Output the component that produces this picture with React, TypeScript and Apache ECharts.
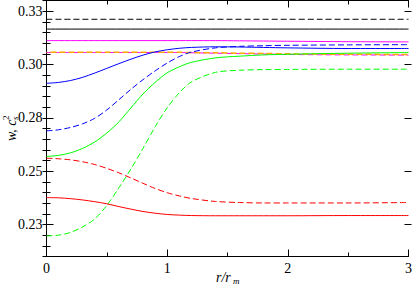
import React, { useEffect, useRef } from "react";
import * as echarts from "echarts";

// x positions (r / r_m) shared by the curved series
const rX = [0, 0.1, 0.2, 0.3, 0.4, 0.5, 0.6, 0.7, 0.8, 0.9, 1.0, 1.1, 1.2, 1.4, 1.6, 1.8, 2.0, 2.5, 3.0];
// x positions for the flat lines
const flatX = [0, 3];

const blackDashed = [0.3212, 0.3212];
const blackSolid = [0.3166, 0.3166];

const magentaSolid = [0.3112, 0.3112, 0.3112, 0.3112, 0.3112, 0.3112, 0.3112, 0.3112, 0.3112, 0.3112, 0.3112, 0.3112, 0.3112, 0.3112, 0.3111, 0.311, 0.3109, 0.3107, 0.3106];
const magentaDashed = [0.3056, 0.3056, 0.3056, 0.3056, 0.3056, 0.3056, 0.3056, 0.3056, 0.3056, 0.3056, 0.3056, 0.3056, 0.3055, 0.3053, 0.3051, 0.3049, 0.3047, 0.3045, 0.3044];
const orangeDashed = [0.3057, 0.3057, 0.3057, 0.3057, 0.3057, 0.3057, 0.3057, 0.3057, 0.3057, 0.3057, 0.3057, 0.3057, 0.3056, 0.3055, 0.3053, 0.3052, 0.305, 0.3048, 0.3047];
const blueSolid = [0.2912, 0.2916, 0.2925, 0.294, 0.296, 0.2982, 0.3004, 0.3025, 0.3044, 0.3059, 0.3069, 0.3076, 0.308, 0.3083, 0.3082, 0.308, 0.3078, 0.3075, 0.3075];
const blueDashed = [0.2689, 0.2694, 0.2705, 0.2722, 0.2748, 0.2787, 0.2835, 0.2884, 0.2929, 0.297, 0.3007, 0.3037, 0.3058, 0.3078, 0.3085, 0.3088, 0.309, 0.3092, 0.3093];
const greenSolid = [0.2569, 0.2574, 0.2586, 0.2607, 0.2637, 0.2679, 0.2731, 0.2797, 0.2862, 0.2916, 0.2961, 0.2989, 0.301, 0.3031, 0.3039, 0.3045, 0.3048, 0.3053, 0.3056];
const greenDashed = [0.2197, 0.22, 0.2213, 0.2239, 0.2276, 0.234, 0.2422, 0.2511, 0.2607, 0.2708, 0.2797, 0.2867, 0.2918, 0.2963, 0.2973, 0.2976, 0.2977, 0.2978, 0.2978];
const redSolid = [0.2376, 0.2375, 0.2371, 0.2365, 0.2357, 0.2347, 0.2334, 0.2322, 0.2311, 0.2303, 0.2297, 0.2294, 0.2292, 0.2291, 0.2291, 0.2291, 0.2291, 0.2292, 0.2292];
const redDashed = [0.2561, 0.2558, 0.2553, 0.2544, 0.2531, 0.2513, 0.2492, 0.2468, 0.2443, 0.2419, 0.2399, 0.2384, 0.2372, 0.2358, 0.2353, 0.2351, 0.2351, 0.2351, 0.2353];

const xTickValues = [0, 1, 2, 3];
const xTickLabels = ["0", "1", "2", "3"];
const yTickValues = [0.225, 0.25, 0.275, 0.3, 0.325];
const yTickLabels = ["0.23", "0.25", "0.28", "0.30", "0.33"];

const FONT = "'Liberation Serif', 'Times New Roman', 'DejaVu Serif', serif";

function lookup(values: number[], labels: string[], v: number): string {
  for (let i = 0; i < values.length; i++) {
    if (Math.abs(values[i] - v) < 1e-9) return labels[i];
  }
  return "";
}

function pairs(xs: number[], ys: number[]) {
  return xs.map((x, i) => [x, ys[i]]);
}

export default function App() {
  const ref = useRef<HTMLDivElement>(null);

  useEffect(() => {
    if (!ref.current) return;
    const chart = echarts.init(ref.current, undefined, { renderer: "svg" });

    const gridBox = { left: 46.5, top: 0.5, right: 3.5, bottom: 30.5 };
    const dash = [6, 3];

    const mkLine = (name: string, xs: number[], ys: number[], color: string, dashed: boolean, width = 1, dashOffset = 0) => ({
      name,
      type: "line",
      xAxisIndex: 0,
      yAxisIndex: 0,
      data: pairs(xs, ys),
      showSymbol: false,
      symbol: "none",
      smooth: 0.3,
      lineStyle: { color, width, type: dashed ? dash : "solid", dashOffset },
      silent: true,
    });

    const xBase = {
      type: "value",
      min: 0,
      max: 3,
      interval: 1,
      axisLine: { show: true, lineStyle: { color: "#000", width: 1 } },
      axisTick: { show: true, inside: true, length: 7, lineStyle: { color: "#000", width: 1 } },
      minorTick: { show: true, splitNumber: 2, length: 4, lineStyle: { color: "#000", width: 1 } },
      splitLine: { show: false },
      minorSplitLine: { show: false },
    };

    const yBase = {
      type: "value",
      min: 0.21,
      max: 0.33,
      interval: 0.005,
      axisLine: { show: true, lineStyle: { color: "#000", width: 1 } },
      axisTick: { show: true, inside: true, length: 4, lineStyle: { color: "#000", width: 1 } },
      splitLine: { show: false },
    };

    const yMajor = {
      type: "value",
      gridIndex: 1,
      min: 0.21,
      max: 0.33,
      axisLine: { show: false },
      axisTick: { show: true, inside: true, length: 7, customValues: yTickValues, lineStyle: { color: "#000", width: 1 } },
      axisLabel: { show: false },
      splitLine: { show: false },
    };

    const txt = (text: string, x: number, y: number, font: string) => ({
      type: "text",
      x,
      y,
      style: { text, font, fill: "#000", textAlign: "left", textVerticalAlign: "middle", verticalAlign: "middle" },
    });

    chart.setOption({
      animation: false,
      backgroundColor: "#fff",
      grid: [
        { ...gridBox, containLabel: false },
        { ...gridBox, containLabel: false },
      ],
      xAxis: [
        {
          ...xBase,
          gridIndex: 0,
          position: "bottom",
          axisLabel: {
            show: true,
            margin: 5,
            color: "#000",
            fontFamily: FONT,
            fontSize: 14,
            formatter: (v: number) => lookup(xTickValues, xTickLabels, v),
          },
        },
        { ...xBase, gridIndex: 0, position: "top", axisLabel: { show: false } },
        { type: "value", gridIndex: 1, min: 0, max: 3, show: false },
      ],
      yAxis: [
        {
          ...yBase,
          gridIndex: 0,
          position: "left",
          axisLabel: {
            show: true,
            margin: 4,
            color: "#000",
            fontFamily: FONT,
            fontSize: 14,
            customValues: yTickValues,
            formatter: (v: number) => lookup(yTickValues, yTickLabels, v),
          },
        },
        { ...yBase, gridIndex: 0, position: "right", axisLabel: { show: false } },
        { ...yMajor, position: "left" },
        { ...yMajor, position: "right" },
      ],
      graphic: [
        {
          type: "group",
          x: 11,
          y: 141,
          rotation: Math.PI / 2,
          silent: true,
          children: [
            txt("w, c", 0, 0, `italic 14px ${FONT}`),
            txt("2", 21, -5, `9px ${FONT}`),
            txt("s", 21, 4, `italic 9px ${FONT}`),
          ],
        },
        {
          type: "group",
          x: 216,
          y: 277,
          silent: true,
          children: [
            txt("r/r", 0, 0, `italic 14px ${FONT}`),
            txt("m", 17, 4, `italic 9px ${FONT}`),
          ],
        },
      ],
      series: [
        mkLine("blackDashed", flatX, blackDashed, "#000000", true),
        mkLine("blackSolid", flatX, blackSolid, "#000000", false),
        mkLine("magentaSolid", rX, magentaSolid, "#ff00ff", false),
        mkLine("magentaDashed", rX, magentaDashed, "#ff00ff", true),
        mkLine("orangeDashed", rX, orangeDashed, "#ffa500", true, 1.5, 4.5),
        mkLine("blueSolid", rX, blueSolid, "#0000ff", false),
        mkLine("blueDashed", rX, blueDashed, "#0000ff", true),
        mkLine("greenSolid", rX, greenSolid, "#00ff00", false),
        mkLine("greenDashed", rX, greenDashed, "#00ff00", true),
        mkLine("redSolid", rX, redSolid, "#ff0000", false),
        mkLine("redDashed", rX, redDashed, "#ff0000", true),
      ],
    });

    return () => chart.dispose();
  }, []);

  return (
    <div
      ref={ref}
      style={{ position: "fixed", left: 0, top: 0, width: 415, height: 287, background: "#fff" }}
    />
  );
}
